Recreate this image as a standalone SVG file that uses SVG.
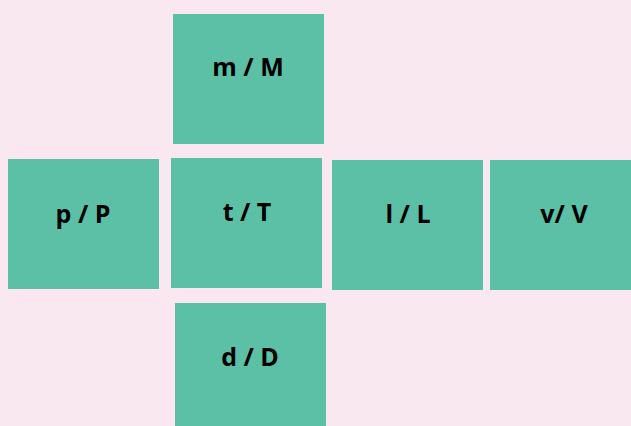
<svg xmlns="http://www.w3.org/2000/svg" width="631" height="426" viewBox="0 0 631 426">
<style>
.box{fill:#5bc0a6}
.lbl{font-family:"Open Sans","Liberation Sans",sans-serif;font-weight:bold;font-size:25px;fill:#000;text-anchor:middle}
</style>
<rect width="631" height="426" fill="#f9e8f0"/>
<g id="node-m"><rect class="box" x="173" y="14" width="151" height="130"/><text class="lbl" x="248" y="76">m / M</text></g>
<g id="node-p"><rect class="box" x="8" y="159" width="151" height="130"/><text class="lbl" x="83" y="223">p / P</text></g>
<g id="node-t"><rect class="box" x="171" y="158" width="151" height="130"/><text class="lbl" x="247" y="221">t / T</text></g>
<g id="node-l"><rect class="box" x="332" y="160" width="151" height="130"/><text class="lbl" x="408" y="223">l / L</text></g>
<g id="node-v"><rect class="box" x="490" y="160" width="141" height="130"/><text class="lbl" x="564" y="223">v/ V</text></g>
<g id="node-d"><rect class="box" x="175" y="303" width="151" height="123"/><text class="lbl" x="250" y="366">d / D</text></g>
<g id="connectors"/>
</svg>
